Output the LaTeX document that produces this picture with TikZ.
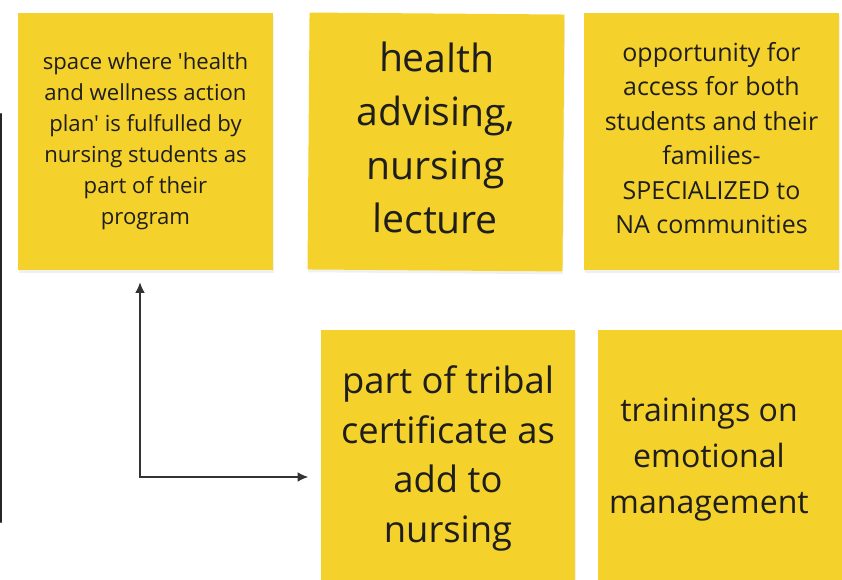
\documentclass[tikz,border=0pt]{standalone}
\usepackage{fontspec}
\setmainfont{Open Sans}[Ligatures=TeXOff]
\usepackage{xcolor}
\usetikzlibrary{positioning,calc,arrows.meta,shadows}

\definecolor{stickyYellow}{HTML}{F5D12B}
\definecolor{inkDark}{HTML}{1E1E1E}
\definecolor{linkGray}{HTML}{333333}

\begin{document}
\begin{tikzpicture}[
    x=0.02cm, y=-0.02cm,
    sticky/.style={fill=stickyYellow, text=inkDark, align=center,
                   minimum width=5.1cm, minimum height=5.14cm, inner sep=0pt,
                   drop shadow={opacity=0.12, shadow xshift=0.4pt, shadow yshift=-1.6pt}},
    link/.style={linkGray, line width=0.7pt, {Latex[length=6pt,width=5.5pt]}-{Latex[length=6pt,width=5.5pt]}},
    frameEdge/.style={black!85, line width=1.4pt, line cap=round},
]
\useasboundingbox (0,0) rectangle (842,580);

% partly hidden frame at the left border
\draw[frameEdge] (1,114) -- (1,522);

% top row of sticky notes
\node[sticky, font=\fontsize{12.6pt}{17.6pt}\selectfont] (space) at (145.5,141.5)
    {space where 'health\\ and wellness action\\ plan' is fulfulled by\\ nursing students as\\ part of their\\ program};
\node[sticky, rotate=-0.45, font=\fontsize{22.2pt}{30.6pt}\selectfont] (advise) at (436,142)
    {\begin{tabular}{@{}c@{}}health\\ advising,\\ nursing\\ lecture\end{tabular}};
\node[sticky, font=\fontsize{14.2pt}{19.6pt}\selectfont] (access) at (711.5,141.5)
    {\begin{tabular}{@{}c@{}}opportunity for\\ access for both\\ students and their\\ families-\\ SPECIALIZED to\\ NA communities\\[0.04cm]\end{tabular}};

% bottom row of sticky notes
\node[sticky, font=\fontsize{20.7pt}{28.3pt}\selectfont] (tribal) at (448,458.5)
    {part of tribal\\ certificate as\\ add to\\ nursing};
\node[sticky, minimum width=4.88cm, font=\fontsize{18.25pt}{26pt}\selectfont] (emotion) at (720,458.5)
    {\begin{tabular}{@{}c@{\hspace{0.44cm}}}trainings on\\ emotional\\ management\end{tabular}};

% elbow link between the space note and the certificate note
\coordinate (bend) at (140,477);
\draw[link, shorten <=0.24cm, shorten >=0.24cm]
    (bend |- space.south) -- (bend) -- (bend -| tribal.west);

\end{tikzpicture}
\end{document}
